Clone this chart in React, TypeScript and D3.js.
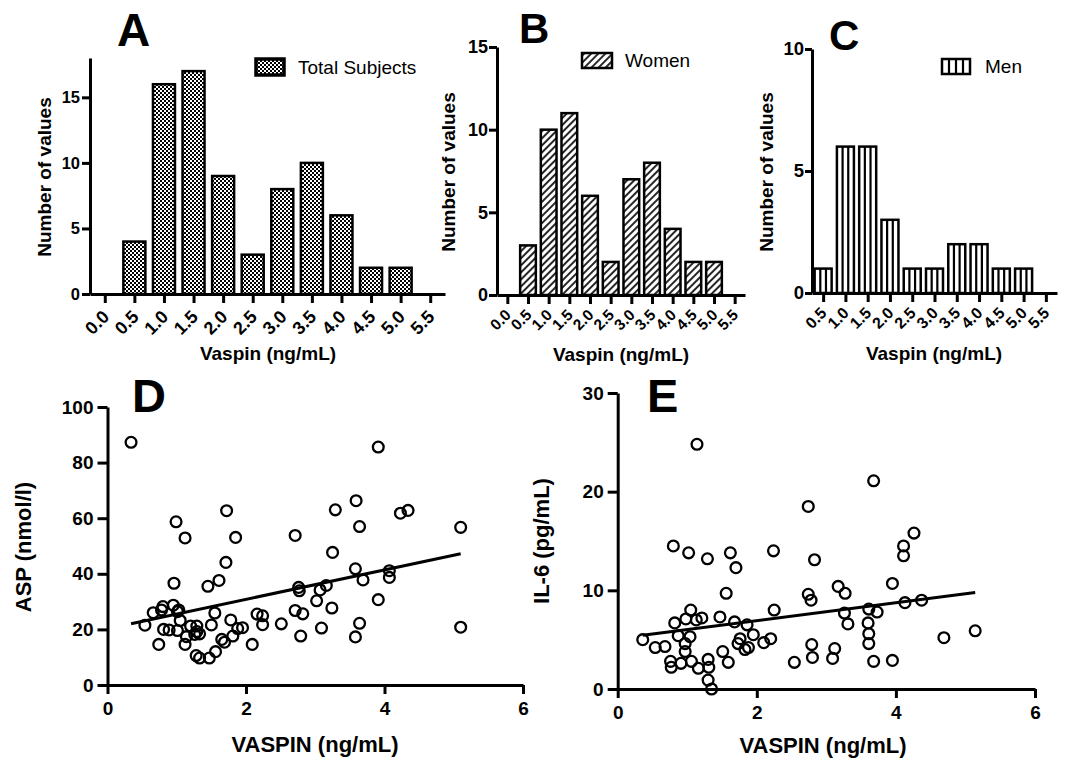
import React, { useRef, useEffect } from 'react';
import * as d3 from 'd3';

const FONT = '"Liberation Sans", Arial, Helvetica, sans-serif';

// histogram bins (ng/mL) and counts per group
const binCenters = [0.5, 1.0, 1.5, 2.0, 2.5, 3.0, 3.5, 4.0, 4.5, 5.0];
const totalCounts = [4, 16, 17, 9, 3, 8, 10, 6, 2, 2];
const womenCounts = [3, 10, 11, 6, 2, 7, 8, 4, 2, 2];
const menCounts = [1, 6, 6, 3, 1, 1, 2, 2, 1, 1];
const histTicksAll = [0, 0.5, 1.0, 1.5, 2.0, 2.5, 3.0, 3.5, 4.0, 4.5, 5.0, 5.5];
const histTicksMen = [0.5, 1.0, 1.5, 2.0, 2.5, 3.0, 3.5, 4.0, 4.5, 5.0, 5.5];

// vaspin (ng/mL) vs ASP (nmol/l)
const aspPoints: [number, number][] = [
  [0.34, 87.3], [3.91, 85.6], [3.59, 66.3], [3.29, 63.0], [1.72, 62.7], [4.23, 61.8],
  [4.34, 62.8], [0.99, 58.7], [3.64, 57.0], [5.1, 56.7], [1.12, 52.9], [1.85, 53.1],
  [2.71, 53.8], [3.25, 47.7], [1.71, 44.1], [3.58, 41.8], [4.07, 41.1], [4.07, 38.7],
  [3.69, 37.8], [0.96, 36.6], [1.61, 37.6], [1.45, 35.5], [3.16, 35.8], [3.07, 34.2],
  [2.76, 35.1], [2.77, 33.9], [3.91, 30.7], [3.02, 30.3], [3.24, 27.7], [2.71, 26.8],
  [2.82, 25.6], [2.16, 25.5], [2.24, 24.9], [2.24, 21.7], [2.51, 22.0], [3.64, 22.2],
  [3.09, 20.5], [5.1, 20.8], [2.79, 17.6], [3.58, 17.3], [2.09, 14.6], [1.55, 25.9],
  [1.5, 21.6], [1.78, 23.4], [1.88, 20.3], [1.95, 20.6], [1.81, 17.6], [1.65, 16.4],
  [1.69, 15.4], [1.56, 12.0], [1.47, 9.7], [1.33, 9.7], [1.28, 10.6], [1.12, 14.6],
  [0.74, 14.6], [0.54, 21.5], [0.66, 26.0], [0.78, 27.0], [0.8, 28.2], [0.95, 28.7],
  [1.03, 27.0], [1.01, 26.4], [1.05, 23.2], [1.01, 19.6], [0.81, 20.0], [0.89, 19.8],
  [1.2, 21.2], [1.29, 21.2], [1.29, 19.2], [1.33, 18.4], [1.26, 18.2], [1.14, 17.4],
];

// vaspin (ng/mL) vs IL-6 (pg/mL)
const il6Points: [number, number][] = [
  [1.14, 24.8], [3.68, 21.1], [2.74, 18.5], [4.26, 15.8], [0.8, 14.5], [4.11, 14.5],
  [4.11, 13.5], [1.02, 13.8], [1.62, 13.8], [2.24, 14.0], [1.29, 13.2], [1.7, 12.3],
  [2.83, 13.1], [1.56, 9.7], [3.95, 10.7], [3.17, 10.4], [3.27, 9.7], [2.74, 9.6],
  [2.78, 9.0], [4.13, 8.75], [4.37, 9.0], [3.61, 8.1], [3.73, 7.8], [3.26, 7.7],
  [3.31, 6.6], [3.6, 6.7], [3.61, 5.6], [3.61, 4.6], [3.68, 2.8], [3.95, 2.9],
  [4.69, 5.2], [5.14, 5.9], [2.25, 8.0], [2.2, 5.1], [2.1, 4.7], [1.95, 5.5],
  [1.86, 6.5], [1.68, 6.8], [1.47, 7.3], [1.21, 7.2], [1.13, 7.0], [1.05, 8.0],
  [0.98, 7.1], [0.82, 6.7], [0.87, 5.4], [1.04, 5.3], [0.97, 4.6], [0.97, 3.8],
  [1.06, 2.8], [0.91, 2.6], [0.76, 2.8], [0.77, 2.2], [1.16, 2.1], [1.3, 3.0],
  [1.31, 2.2], [1.3, 0.9], [1.35, 0.0], [1.51, 3.8], [1.59, 2.7], [1.76, 5.1],
  [1.73, 4.6], [1.83, 4.0], [1.88, 4.2], [0.36, 5.0], [0.54, 4.2], [0.68, 4.3],
  [2.54, 2.7], [2.79, 4.5], [2.8, 3.2], [3.12, 4.1], [3.09, 3.1],
];

// linear regression lines
const aspFit = { slope: 5.29, intercept: 20.25 };
const il6Fit = { slope: 0.91, intercept: 5.11 };

type Fill = 'checker' | 'hatch' | 'vlines';

type HistPanel = {
  letter: string;
  letterPos: [number, number, number];
  counts: number[];
  ticks: number[];
  xDomain: [number, number];
  xRange: [number, number];
  yMax: number;
  yRange: [number, number];
  yTicks: number[];
  barWidth: number;
  fill: Fill;
  legend: string;
  legendBox: [number, number, number, number];
  legendText: [number, number];
  yTickFont: number;
  yTickSize: number;
  yTickPad: number;
  xTickFont: number;
  xTickOffset: [number, number];
  yLabel: [number, number];
  xLabel: [number, number];
};

const histPanels: HistPanel[] = [
  {
    letter: 'A', letterPos: [117, 46, 46],
    counts: totalCounts, ticks: histTicksAll,
    xDomain: [-0.25, 5.75], xRange: [90, 445],
    yMax: 18, yRange: [294, 58], yTicks: [0, 5, 10, 15],
    barWidth: 22, fill: 'checker',
    legend: 'Total Subjects', legendBox: [256, 59, 28, 16], legendText: [298, 74],
    yTickFont: 16.5, yTickSize: 8, yTickPad: 2,
    xTickFont: 18, xTickOffset: [5, 24],
    yLabel: [51, 177], xLabel: [268, 360],
  },
  {
    letter: 'B', letterPos: [519, 43, 42],
    counts: womenCounts, ticks: histTicksAll,
    xDomain: [-0.25, 5.75], xRange: [497, 745],
    yMax: 15, yRange: [295, 47], yTicks: [0, 5, 10, 15],
    barWidth: 15.7, fill: 'hatch',
    legend: 'Women', legendBox: [582, 53, 30, 15], legendText: [625, 67],
    yTickFont: 18, yTickSize: 8, yTickPad: 1,
    xTickFont: 15.5, xTickOffset: [4, 21],
    yLabel: [455, 172], xLabel: [621, 361],
  },
  {
    letter: 'C', letterPos: [829, 50, 42],
    counts: menCounts, ticks: histTicksMen,
    xDomain: [0.25, 5.75], xRange: [812, 1057],
    yMax: 10, yRange: [293, 49], yTicks: [0, 5, 10],
    barWidth: 17, fill: 'vlines',
    legend: 'Men', legendBox: [942, 59, 28, 15], legendText: [985, 73],
    yTickFont: 18.5, yTickSize: 7, yTickPad: 1,
    xTickFont: 16, xTickOffset: [4, 21],
    yLabel: [773, 172], xLabel: [934, 360],
  },
];

type ScatterPanel = {
  letter: string;
  letterPos: [number, number, number];
  points: [number, number][];
  fit: { slope: number; intercept: number };
  xRange: [number, number];
  yMax: number;
  yRange: [number, number];
  yTicks: number[];
  yTitle: string;
  yLabel: [number, number];
  xLabel: [number, number];
};

const scatterPanels: ScatterPanel[] = [
  {
    letter: 'D', letterPos: [132, 412, 47],
    points: aspPoints, fit: aspFit,
    xRange: [107.5, 523], yMax: 100, yRange: [685, 407],
    yTicks: [0, 20, 40, 60, 80, 100],
    yTitle: 'ASP (nmol/l)', yLabel: [31, 547], xLabel: [315, 752],
  },
  {
    letter: 'E', letterPos: [647, 412, 47],
    points: il6Points, fit: il6Fit,
    xRange: [617.7, 1035], yMax: 30, yRange: [689, 393],
    yTicks: [0, 10, 20, 30],
    yTitle: 'IL-6 (pg/mL)', yLabel: [549, 541], xLabel: [823, 753],
  },
];

const styleAxis = (g: d3.Selection<SVGGElement, unknown, null, undefined>, size: number): void => {
  g.attr('font-family', FONT).attr('font-weight', 'bold').attr('font-size', size);
  g.select('.domain').attr('stroke-width', 3);
  g.selectAll('.tick line').attr('stroke-width', 3);
  g.selectAll('.tick text').attr('fill', '#000');
};

const drawHist = (svg: d3.Selection<SVGSVGElement, unknown, null, undefined>, p: HistPanel): void => {
  const x = d3.scaleLinear().domain(p.xDomain).range(p.xRange);
  const y = d3.scaleLinear().domain([0, p.yMax]).range(p.yRange);
  const g = svg.append('g');
  const fillUrl = p.fill === 'vlines' ? '#fff' : `url(#${p.fill})`;

  const bars = g.append('g')
    .selectAll('g')
    .data(p.counts.map((c, i) => ({ bin: binCenters[i], count: c })))
    .join('g');

  bars.append('rect')
    .attr('x', (d) => x(d.bin) - p.barWidth / 2)
    .attr('y', (d) => y(d.count))
    .attr('width', p.barWidth)
    .attr('height', (d) => y(0) - y(d.count))
    .attr('fill', fillUrl)
    .attr('stroke', '#000')
    .attr('stroke-width', 2.5);

  if (p.fill === 'vlines') {
    [1 / 3, 2 / 3].forEach((f) => {
      bars.append('line')
        .attr('x1', (d) => x(d.bin) - p.barWidth / 2 + p.barWidth * f)
        .attr('x2', (d) => x(d.bin) - p.barWidth / 2 + p.barWidth * f)
        .attr('y1', (d) => y(d.count))
        .attr('y2', y(0))
        .attr('stroke', '#000')
        .attr('stroke-width', 2.2);
    });
  }

  const yAxis = g.append('g')
    .attr('transform', `translate(${p.xRange[0]},0)`)
    .call(
      d3.axisLeft(y).tickValues(p.yTicks).tickSize(p.yTickSize)
        .tickSizeOuter(0).tickPadding(p.yTickPad).tickFormat(d3.format('d'))
    );
  styleAxis(yAxis, p.yTickFont);

  const xAxis = g.append('g')
    .attr('transform', `translate(0,${p.yRange[0]})`)
    .call(
      d3.axisBottom(x).tickValues(p.ticks).tickSize(9)
        .tickSizeOuter(0).tickFormat(d3.format('.1f'))
    );
  styleAxis(xAxis, p.xTickFont);
  xAxis.selectAll('.tick text')
    .attr('x', 0).attr('y', 0).attr('dy', 0)
    .attr('text-anchor', 'end')
    .attr('transform', `translate(${p.xTickOffset[0]},${p.xTickOffset[1]}) rotate(-45)`);

  g.append('text')
    .attr('transform', `translate(${p.yLabel[0]},${p.yLabel[1]}) rotate(-90)`)
    .attr('text-anchor', 'middle')
    .attr('font-family', FONT).attr('font-weight', 'bold').attr('font-size', 19)
    .text('Number of values');

  g.append('text')
    .attr('x', p.xLabel[0]).attr('y', p.xLabel[1])
    .attr('text-anchor', 'middle')
    .attr('font-family', FONT).attr('font-weight', 'bold').attr('font-size', 19)
    .text('Vaspin (ng/mL)');

  g.append('text')
    .attr('x', p.letterPos[0]).attr('y', p.letterPos[1])
    .attr('font-family', FONT).attr('font-weight', 'bold').attr('font-size', p.letterPos[2])
    .text(p.letter);

  // legend
  const [bx, by, bw, bh] = p.legendBox;
  g.append('rect')
    .attr('x', bx).attr('y', by).attr('width', bw).attr('height', bh)
    .attr('fill', fillUrl)
    .attr('stroke', '#000')
    .attr('stroke-width', p.fill === 'checker' ? 3.5 : 2.5);
  if (p.fill === 'vlines') {
    [0.25, 0.5, 0.75].forEach((f) => {
      g.append('line')
        .attr('x1', bx + bw * f).attr('x2', bx + bw * f)
        .attr('y1', by).attr('y2', by + bh)
        .attr('stroke', '#000').attr('stroke-width', 2.2);
    });
  }
  g.append('text')
    .attr('x', p.legendText[0]).attr('y', p.legendText[1])
    .attr('font-family', FONT).attr('font-size', 19)
    .text(p.legend);
};

const drawScatter = (svg: d3.Selection<SVGSVGElement, unknown, null, undefined>, p: ScatterPanel): void => {
  const x = d3.scaleLinear().domain([0, 6]).range(p.xRange);
  const y = d3.scaleLinear().domain([0, p.yMax]).range(p.yRange);
  const g = svg.append('g');

  const yAxis = g.append('g')
    .attr('transform', `translate(${p.xRange[0]},0)`)
    .call(
      d3.axisLeft(y).tickValues(p.yTicks).tickSize(10).tickSizeOuter(0)
        .tickPadding(4).tickFormat(d3.format('d'))
    );
  styleAxis(yAxis, 19);

  const xAxis = g.append('g')
    .attr('transform', `translate(0,${p.yRange[0]})`)
    .call(
      d3.axisBottom(x).tickValues([0, 2, 4, 6]).tickSize(9)
        .tickSizeOuter(0).tickFormat(d3.format('d'))
    );
  styleAxis(xAxis, 19);
  xAxis.selectAll('.tick text').attr('y', 30).attr('dy', 0);

  const xs = p.points.map((d) => d[0]);
  const x0 = d3.min(xs) ?? 0;
  const x1 = d3.max(xs) ?? 6;
  const line = d3.line<number>()
    .x((d) => x(d))
    .y((d) => y(p.fit.intercept + p.fit.slope * d));
  g.append('path')
    .attr('d', line([x0, x1]))
    .attr('fill', 'none')
    .attr('stroke', '#000')
    .attr('stroke-width', 3);

  g.append('g')
    .selectAll('circle')
    .data(p.points)
    .join('circle')
    .attr('cx', (d) => x(d[0]))
    .attr('cy', (d) => y(d[1]))
    .attr('r', 5.4)
    .attr('fill', 'none')
    .attr('stroke', '#000')
    .attr('stroke-width', 2.3);

  g.append('text')
    .attr('transform', `translate(${p.yLabel[0]},${p.yLabel[1]}) rotate(-90)`)
    .attr('text-anchor', 'middle')
    .attr('font-family', FONT).attr('font-weight', 'bold').attr('font-size', 22)
    .text(p.yTitle);

  g.append('text')
    .attr('x', p.xLabel[0]).attr('y', p.xLabel[1])
    .attr('text-anchor', 'middle')
    .attr('font-family', FONT).attr('font-weight', 'bold').attr('font-size', 22)
    .text('VASPIN (ng/mL)');

  g.append('text')
    .attr('x', p.letterPos[0]).attr('y', p.letterPos[1])
    .attr('font-family', FONT).attr('font-weight', 'bold').attr('font-size', p.letterPos[2])
    .text(p.letter);
};

const App: React.FC = () => {
  const svgRef = useRef<SVGSVGElement>(null);

  useEffect(() => {
    if (svgRef.current === null) return;
    const svg = d3.select(svgRef.current);
    svg.selectAll('*').remove();

    const defs = svg.append('defs');
    const checker = defs.append('pattern')
      .attr('id', 'checker')
      .attr('patternUnits', 'userSpaceOnUse')
      .attr('width', 4).attr('height', 4);
    checker.append('rect').attr('width', 4).attr('height', 4).attr('fill', '#fff');
    checker.append('rect').attr('width', 2).attr('height', 2).attr('fill', '#000');
    checker.append('rect').attr('x', 2).attr('y', 2).attr('width', 2).attr('height', 2).attr('fill', '#000');

    const hatch = defs.append('pattern')
      .attr('id', 'hatch')
      .attr('patternUnits', 'userSpaceOnUse')
      .attr('width', 5).attr('height', 5)
      .attr('patternTransform', 'rotate(45)');
    hatch.append('rect').attr('width', 5).attr('height', 5).attr('fill', '#fff');
    hatch.append('line')
      .attr('x1', 1).attr('x2', 1).attr('y1', 0).attr('y2', 5)
      .attr('stroke', '#000').attr('stroke-width', 1.7);

    histPanels.forEach((p) => drawHist(svg, p));
    scatterPanels.forEach((p) => drawScatter(svg, p));
  }, []);

  return (
    <svg
      ref={svgRef}
      width={1077}
      height={764}
      style={{ position: 'absolute', left: 0, top: 0, background: '#fff' }}
    />
  );
};

export default App;
